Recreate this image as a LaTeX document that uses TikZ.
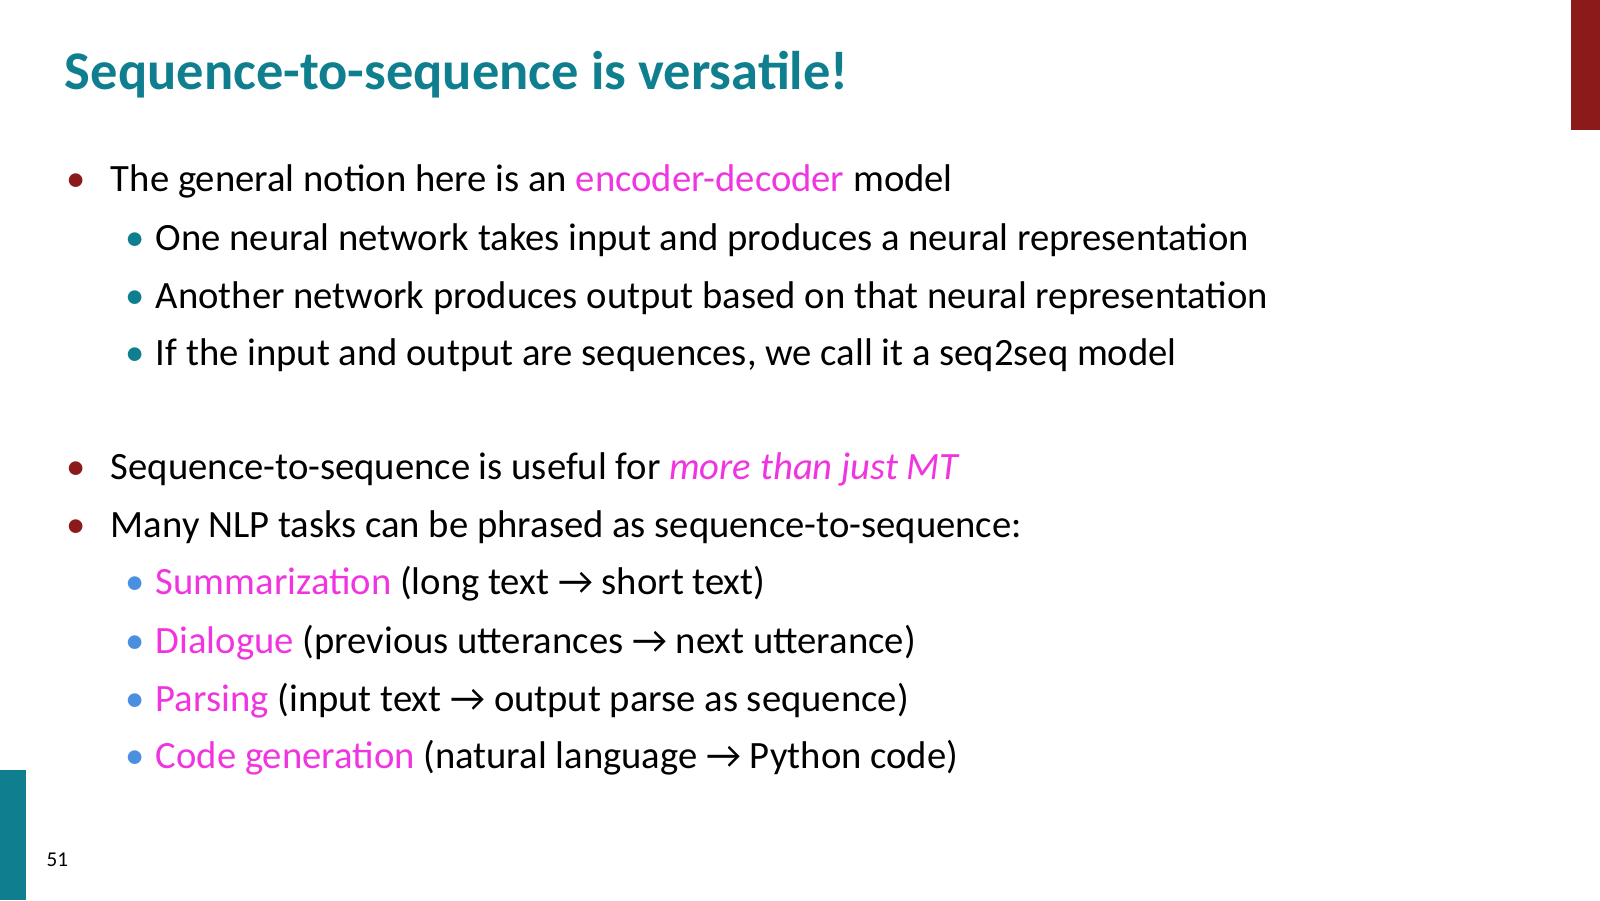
\documentclass[tikz,border=0pt]{standalone}
\usepackage{fontspec}
\setmainfont{Carlito}
\definecolor{teal1}{HTML}{0F7F8F}
\definecolor{mag}{HTML}{F035E0}
\definecolor{dred}{HTML}{8C1A1A}
\definecolor{blu}{HTML}{4A8FE0}
\begin{document}
\begin{tikzpicture}[x=0.010204cm,y=-0.010204cm,
  txt/.style={anchor=base west,inner sep=0,font=\fontsize{11}{13}\selectfont},
  b1/.style={anchor=base west,inner sep=0,text=dred,font=\fontsize{11}{13}\selectfont},
  b2/.style={anchor=base west,inner sep=0,font=\fontsize{11}{13}\selectfont}]
\useasboundingbox (0,0) rectangle (1568,882);
\fill[dred] (1540,0) rectangle (1568,127);
\fill[teal1] (0,755) rectangle (25,882);
\node[anchor=base west,inner sep=0,text=teal1,font=\fontsize{15.5}{18}\selectfont\bfseries] (title) at (63,88) {Sequence-to-sequence is versatile!};
\node[b1] (d1) at (64,188) {•};
\node[txt] (t1) at (108,188) {The general notion here is an \textcolor{mag}{encoder-decoder} model};
\node[b2,text=teal1] (d2) at (122,245) {•};
\node[txt] (t2) at (152,245) {One neural network takes input and produces a neural representation};
\node[b2,text=teal1] (d3) at (122,302) {•};
\node[txt] (t3) at (152,302) {Another network produces output based on that neural representation};
\node[b2,text=teal1] (d4) at (122,358) {•};
\node[txt] (t4) at (152,358) {If the input and output are sequences, we call it a seq2seq model};
\node[b1] (d5) at (64,470) {•};
\node[txt] (t5) at (108,470) {Sequence-to-sequence is useful for \textcolor{mag}{\itshape more than just MT}};
\node[b1] (d6) at (64,527) {•};
\node[txt] (t6) at (108,527) {Many NLP tasks can be phrased as sequence-to-sequence:};
\node[b2,text=blu] (d7) at (122,583) {•};
\node[txt] (t7) at (152,583) {\textcolor{mag}{Summarization} (long text → short text)};
\node[b2,text=blu] (d8) at (122,640) {•};
\node[txt] (t8) at (152,640) {\textcolor{mag}{Dialogue} (previous utterances → next utterance)};
\node[b2,text=blu] (d9) at (122,697) {•};
\node[txt] (t9) at (152,697) {\textcolor{mag}{Parsing} (input text → output parse as sequence)};
\node[b2,text=blu] (d10) at (122,753) {•};
\node[txt] (t10) at (152,753) {\textcolor{mag}{Code generation} (natural language → Python code)};
\node[anchor=base west,inner sep=0,font=\fontsize{6}{7}\selectfont] (pg) at (45,849) {51};
\end{tikzpicture}
\end{document}
